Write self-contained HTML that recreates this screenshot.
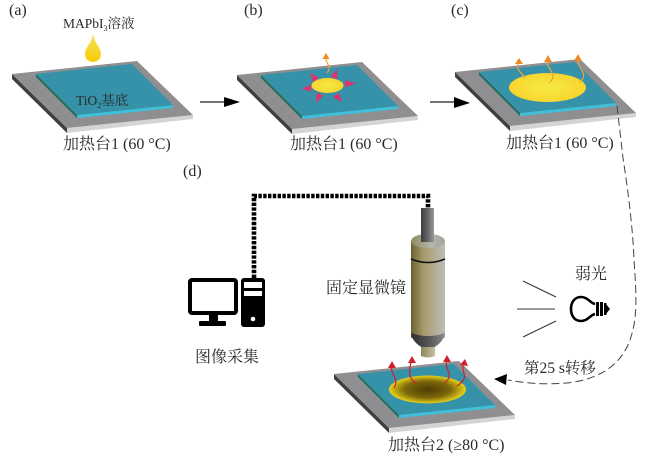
<!DOCTYPE html>
<html><head><meta charset="utf-8"><style>
html,body{margin:0;padding:0;background:#fff}
svg{display:block}
text{font-family:"Liberation Serif","Noto Serif CJK SC",serif;fill:#2a2a2a;font-size:16px}
</style></head><body>
<svg width="650" height="463" viewBox="0 0 650 463" xmlns="http://www.w3.org/2000/svg">
<defs>
<linearGradient id="drop" x1="0" x2="0" y1="0" y2="1"><stop offset="0" stop-color="#f5e66a"/><stop offset="1" stop-color="#f6cc00"/></linearGradient>
<radialGradient id="yel"><stop offset="0" stop-color="#f6ea45"/><stop offset="1" stop-color="#f8d52e"/></radialGradient>
<radialGradient id="dark"><stop offset="0" stop-color="#4f3c04"/><stop offset="0.6" stop-color="#7d680a"/><stop offset="1" stop-color="#e8d21a"/></radialGradient>
<linearGradient id="body" x1="0" x2="1" y1="0" y2="0"><stop offset="0" stop-color="#6a6030"/><stop offset="0.35" stop-color="#a5996a"/><stop offset="1" stop-color="#bdbdb6"/></linearGradient>
<linearGradient id="cap" x1="0" x2="1" y1="0" y2="0"><stop offset="0" stop-color="#8f8a60"/><stop offset="0.6" stop-color="#b4b4ac"/><stop offset="1" stop-color="#a5a5a0"/></linearGradient>
<linearGradient id="tube" x1="0" x2="1" y1="0" y2="0"><stop offset="0" stop-color="#3c3c3c"/><stop offset="0.6" stop-color="#6e6e6e"/><stop offset="1" stop-color="#9a9a9a"/></linearGradient>
<linearGradient id="nose" x1="0" x2="1" y1="0" y2="0"><stop offset="0" stop-color="#2d2d2d"/><stop offset="0.6" stop-color="#5c5c5c"/><stop offset="1" stop-color="#8c8c8c"/></linearGradient>
<linearGradient id="lens" x1="0" x2="1" y1="0" y2="0"><stop offset="0" stop-color="#8e8558"/><stop offset="1" stop-color="#c4c0a8"/></linearGradient>
<g id="plate">
<polygon points="12,74 67,128 67,133 12,79" fill="#3f3f3f"/>
<polygon points="67,128 193,115 193,119 67,133" fill="#d4d4d4"/>
<polygon points="12,74 137,61 193,115 67,128" fill="#8f8f92"/>
<polygon points="36,74 77,115 77,118 36,77" fill="#1f6f5c"/>
<polygon points="77,115 173,105 173,108 77,118" fill="#3fc0da"/>
<polygon points="36,74 132,64 173,105 77,115" fill="#3592a8"/>
</g>
</defs>

<!-- a -->
<use href="#plate"/>
<path d="M93,32 C93,42 101,47 101,54 C101,59 97,62 93,62 C89,62 85,59 85,54 C85,47 93,42 93,32Z" fill="url(#drop)"/>
<text x="9" y="15">(a)</text>
<text x="63" y="28" style="font-size:13.5px">MAPbI<tspan dy="3" style="font-size:8px">3</tspan><tspan dy="-3">溶液</tspan></text>
<text x="76" y="105" style="font-size:13.5px">TiO<tspan dy="3" style="font-size:8px">2</tspan><tspan dy="-3">基底</tspan></text>
<text x="63" y="149">加热台1 (60 °C)</text>

<!-- arrow 1 -->
<line x1="200" y1="102" x2="228" y2="102" stroke="#222" stroke-width="1.2"/>
<polygon points="224,97 240,102 224,107" fill="#000"/>

<!-- b -->
<use href="#plate" x="225" y="1"/>
<ellipse cx="327.5" cy="85.5" rx="16" ry="7.5" fill="url(#yel)"/>
<g fill="#e0316c">
<polygon points="310,73 318.7,77.7 313.3,82.3"/>
<polygon points="337,69 337.3,79.1 330.7,76.9"/>
<polygon points="356,83 345.3,87.5 344.7,80.5"/>
<polygon points="302,89 311.4,91.5 310.6,84.5"/>
<polygon points="316,103 323.2,95.4 316.8,92.6"/>
<polygon points="342,102 333.3,97.3 338.7,92.7"/>
</g>
<path d="M327,73 C333,66 324,62 326,56" fill="none" stroke="#f0a040" stroke-width="1.2"/>
<polygon points="326,53 329.5,59 322.5,59" fill="#f08a20"/>
<text x="290" y="149">加热台1 (60 °C)</text>
<text x="244" y="15">(b)</text>

<!-- arrow 2 -->
<line x1="430" y1="102" x2="458" y2="102" stroke="#222" stroke-width="1.2"/>
<polygon points="454,97 470,103 454,108" fill="#000"/>

<!-- c -->
<use href="#plate" x="443" y="-2"/>
<ellipse cx="547.5" cy="87.5" rx="38.5" ry="14.5" fill="url(#yel)"/>
<g fill="none" stroke="#f0a040" stroke-width="1.2">
<path d="M525,78 C520,70 515,70 519,62"/>
<path d="M549,83 C560,74 544,68 548,60"/>
<path d="M580,83 C590,72 576,68 578,59"/>
</g>
<g fill="#f08a20">
<polygon points="519,58 523,64 515,64"/>
<polygon points="548,55 552,62 544,62"/>
<polygon points="578,54 582,61 574,61"/>
</g>
<text x="506" y="148">加热台1 (60 °C)</text>
<text x="451" y="15">(c)</text>

<text x="183" y="176">(d)</text>

<!-- dashed link -->
<path d="M617,106 L623,158 C628,190 633,230 634,260 C637,300 637,320 630,340 C620,368 595,380 567,383 C545,385 525,383 508,380" fill="none" stroke="#444" stroke-width="1" stroke-dasharray="8 4"/>
<polygon points="494,379 507,374 506,385" fill="#000"/>

<!-- cable -->
<path d="M254,278 V196 H428 V208" fill="none" stroke="#000" stroke-width="4.6" stroke-dasharray="3.4 1.4"/>

<!-- computer -->
<rect x="190" y="280" width="46" height="33" rx="2" fill="#fff" stroke="#000" stroke-width="4"/>
<rect x="209" y="314" width="9" height="8" fill="#000"/>
<rect x="199" y="321" width="27" height="5" rx="1" fill="#000"/>
<rect x="241" y="278" width="24" height="49" rx="3" fill="#000"/>
<rect x="244" y="282" width="18" height="6" fill="#fff"/>
<rect x="244" y="291" width="18" height="5" fill="#fff"/>
<circle cx="253" cy="319" r="2.3" fill="#fff"/>
<text x="195" y="362">图像采集</text>

<!-- microscope -->
<path d="M411,241 L445,241 L445,338 L411,338Z" fill="url(#body)"/>
<ellipse cx="428" cy="241" rx="17" ry="7" fill="url(#cap)"/>
<rect x="421" y="208" width="13" height="34" fill="url(#tube)"/>
<path d="M411,259 Q428,266 445,259" fill="none" stroke="#111" stroke-width="1.6"/>
<path d="M411,333 Q428,339 445,333 C444,342 434,349 428,349 C422,349 412,342 411,333Z" fill="url(#nose)"/>
<path d="M421,347 H435 V356 Q428,359 421,356Z" fill="url(#lens)"/>
<text x="326" y="293">固定显微镜</text>

<!-- light -->
<g stroke="#333" stroke-width="1" fill="none">
<line x1="523" y1="281" x2="556" y2="297"/>
<line x1="517" y1="309" x2="555" y2="309"/>
<line x1="523" y1="337" x2="556" y2="321"/>
</g>
<path d="M595,304 C590,303 588,297 581,297 C574,297 571,303 571,309 C571,315 574,321 581,321 C588,321 590,315 595,314" fill="#fff" stroke="#000" stroke-width="2.6"/>
<rect x="596" y="302" width="3" height="14" fill="#000"/>
<rect x="600" y="302" width="3" height="14" fill="#000"/>
<rect x="604" y="303" width="2.5" height="12" fill="#000"/>
<path d="M606,304 L610,309 L606,314Z" fill="#000"/>
<text x="575" y="279">弱光</text>
<text x="524" y="373" style="font-size:15.5px">第25 s转移</text>

<!-- d plate -->
<use href="#plate" x="322" y="300"/>
<ellipse cx="427.5" cy="389.5" rx="38.5" ry="14" fill="url(#dark)"/>
<g fill="none" stroke="#d0202c" stroke-width="1.2">
<path d="M394,388 C400,378 389,374 392,365"/>
<path d="M417,384 C407,378 409,368 412,360"/>
<path d="M444,383 C456,376 443,368 447,359"/>
<path d="M457,386 C472,376 459,372 464,363"/>
</g>
<g fill="#d0202c">
<polygon points="392,361 396,368 388,368"/>
<polygon points="412,356 416,363 408,363"/>
<polygon points="447,355 451,362 443,362"/>
<polygon points="465,359 468,366 460,365"/>
</g>
<text x="388" y="450">加热台2 (≥80 °C)</text>
</svg>
</body></html>
